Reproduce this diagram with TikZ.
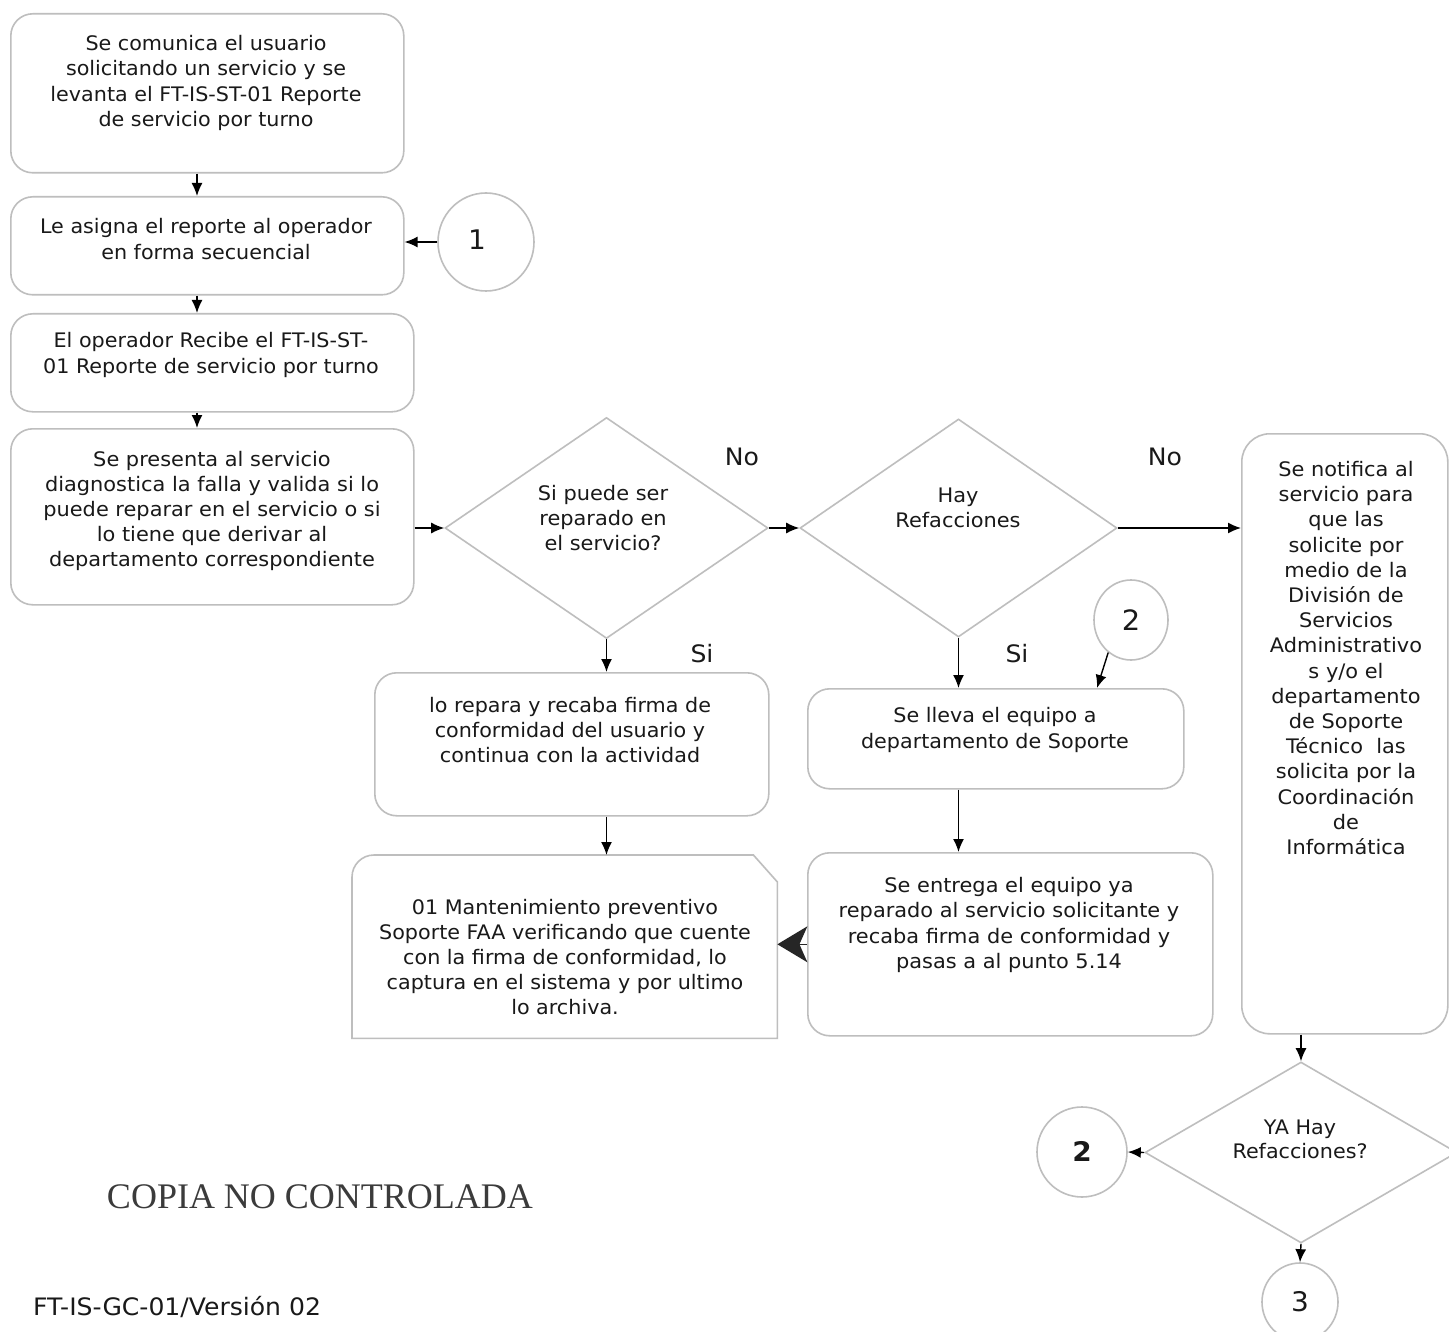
\documentclass[tikz,border=0pt]{standalone}
\usepackage{fontspec}
\setmainfont[FakeStretch=1.035]{DejaVu Sans}
\newfontfamily\condf[FakeStretch=1.045]{DejaVu Sans}
\newfontfamily\serf{Liberation Serif}
\usetikzlibrary{arrows.meta,shapes.geometric}
\definecolor{boxgray}{RGB}{190,190,190}
\definecolor{ink}{RGB}{25,25,25}
\begin{document}
\begin{tikzpicture}[x=1pt,y=-1pt,
  box/.style={draw=boxgray, line width=1.6pt, rounded corners=22pt, anchor=north west, inner sep=0pt},
  dia/.style={draw=boxgray, line width=1.6pt, shape=diamond, inner sep=0pt},
  circ/.style={draw=boxgray, line width=1.6pt, shape=ellipse, inner sep=0pt},
  txt/.style={align=center, text=ink, font=\fontsize{20}{25.2}\selectfont, inner sep=0pt},
  ctxt/.style={align=center, text=ink, font=\condf\fontsize{20}{25.2}\selectfont, inner sep=0pt},
  lbl/.style={text=ink, font=\condf\fontsize{24}{26}\selectfont, inner sep=0pt},
  arr/.style={draw=black, line width=1.4pt, -{Latex[length=13pt,width=11pt]}},
]
\useasboundingbox (0,0) rectangle (1449,1332);
\clip (0,0) rectangle (1449,1332);
\fill[white] (0,0) rectangle (1449,1332);

% boxes
\node[box, minimum width=393, minimum height=159] (b1) at (10,13) {};
\node[txt] at (206,83) {Se comunica el usuario\\solicitando un servicio y se\\levanta el FT-IS-ST-01 Reporte\\de servicio por turno};

\node[box, minimum width=393, minimum height=98] (b2) at (10,196) {};
\node[txt] at (206,239) {Le asigna el reporte al operador\\en forma secuencial};

\node[box, minimum width=403, minimum height=98] (b3) at (10,313) {};
\node[txt] at (211,355) {El operador Recibe el FT-IS-ST-\\01 Reporte de servicio por turno};

\node[box, minimum width=403, minimum height=176] (b4) at (10,428) {};
\node[ctxt] at (212,511) {Se presenta al servicio\\diagnostica la falla y valida si lo\\puede reparar en el servicio o si\\lo tiene que derivar al\\departamento correspondiente};

\node[circ, minimum width=96, minimum height=98] (c1) at (486,242) {};
\node[text=ink, font=\fontsize{27}{30}\selectfont] at (477,240) {1};

% decision 1
\node[dia, minimum width=323, minimum height=221] (d1) at (606.5,528) {};
\node[ctxt] at (603,518) {Si puede ser\\reparado en\\el servicio?};
\node[lbl] at (742,457) {No};
\node[lbl] at (702,654) {Si};

% decision 2
\node[dia, minimum width=317, minimum height=218] (d2) at (958.5,528) {};
\node[ctxt] at (958,508) {Hay\\Refacciones};
\node[lbl] at (1165,457) {No};
\node[lbl] at (1017,654) {Si};

% notify box
\node[box, rounded corners=28pt, minimum width=206, minimum height=600] (nb) at (1241,433) {};
\node[ctxt] at (1346,658) {Se notifica al\\servicio para\\que las\\solicite por\\medio de la\\División de\\Servicios\\Administrativo\\s y/o el\\departamento\\de Soporte\\Técnico\ \ las\\solicita por la\\Coordinación\\de\\Informática};

% box 5
\node[box, minimum width=394, minimum height=143] (b5) at (374,672) {};
\node[txt] at (570,730) {lo repara y recaba firma de\\conformidad del usuario y\\continua con la actividad};

% box 6 (cut corner)
\node[anchor=north west, minimum width=425, minimum height=183, inner sep=0pt] (b6) at (352,855) {};
\draw[boxgray, line width=1.6pt] (b6.south west) -- ([yshift=-22pt]b6.north west) arc[start angle=180, end angle=90, radius=22pt] -- ([xshift=-24pt]b6.north east) -- ([yshift=-27pt]b6.north east) -- (b6.south east) -- cycle;
\node[txt] at (565,957) {01 Mantenimiento preventivo\\Soporte FAA verificando que cuente\\con la firma de conformidad, lo\\captura en el sistema y por ultimo\\lo archiva.};

% circle 2 upper
\node[circ, minimum width=74, minimum height=80] (c2a) at (1131,620) {};
\node[text=ink, font=\fontsize{28}{30}\selectfont] at (1131,620) {2};

% box 8
\node[box, minimum width=376, minimum height=100] (b8) at (807,688) {};
\node[txt] at (995,730) {Se lleva el equipo a\\departamento de Soporte};

% box 7
\node[box, minimum width=405, minimum height=183] (b7) at (807,852) {};
\node[ctxt] at (1009,925) {Se entrega el equipo ya\\reparado al servicio solicitante y\\recaba firma de conformidad y\\pasas a al punto 5.14};

% decision 3
\node[dia, minimum width=312, minimum height=181] (d3) at (1301,1152.5) {};
\node[txt, font=\fontsize{20}{24}\selectfont] at (1300,1139) {YA Hay\\Refacciones?};

\node[circ, minimum width=90, minimum height=90] (c2b) at (1082,1152) {};
\node[text=ink, font=\bfseries\fontsize{27}{30}\selectfont] at (1082,1151) {2};

\node[circ, minimum width=76, minimum height=78] (c3) at (1300,1302) {};
\node[text=ink, font=\fontsize{27}{30}\selectfont] at (1300,1302) {3};

% footer texts
\node[text=ink!85, font=\serf\fontsize{36}{38}\selectfont, inner sep=0pt] (copia) at (320,1197) {COPIA NO CONTROLADA};
\node[text=ink, font=\condf\fontsize{24}{26}\selectfont, anchor=west, inner sep=0pt] (ver) at (33,1307) {FT-IS-GC-01/Versión 02};

% connectors
\coordinate (a1) at (197,172);
\draw[arr] (b1.south -| a1) -- (b2.north -| a1);
\draw[arr] (b2.south -| a1) -- (b3.north -| a1);
\draw[arr] (b3.south -| a1) -- (b4.north -| a1);
\draw[arr] (c1.west) -- (c1.west -| b2.east);
\draw[arr] (d1.west -| b4.east) -- (d1.west);
\draw[arr] (d1.east) -- (d2.west);
\draw[arr] (d2.east) -- (d2.east -| nb.west);
\draw[arr] (d1.south) -- (d1.south |- b5.north);
\draw[arr] (d1.south |- b5.south) -- (d1.south |- b6.north);
\draw[arr] (d2.south) -- (d2.south |- b8.north);
\coordinate (c2tip) at (1097,688);
\draw[arr] (c2a.-125) -- (c2tip);
\draw[arr] (d2.south |- b8.south) -- (d2.south |- b7.north);
\draw[draw=black!85, line width=1.4pt, -{Stealth[length=30pt,width=36pt,inset=8pt]}] (b7.west) -- (b7.west -| b6.east);
\draw[arr] (d3.north |- nb.south) -- (d3.north);
\draw[arr] (d3.west) -- (c2b.east);
\draw[arr] (d3.south) -- (c3.north);
\end{tikzpicture}
\end{document}
